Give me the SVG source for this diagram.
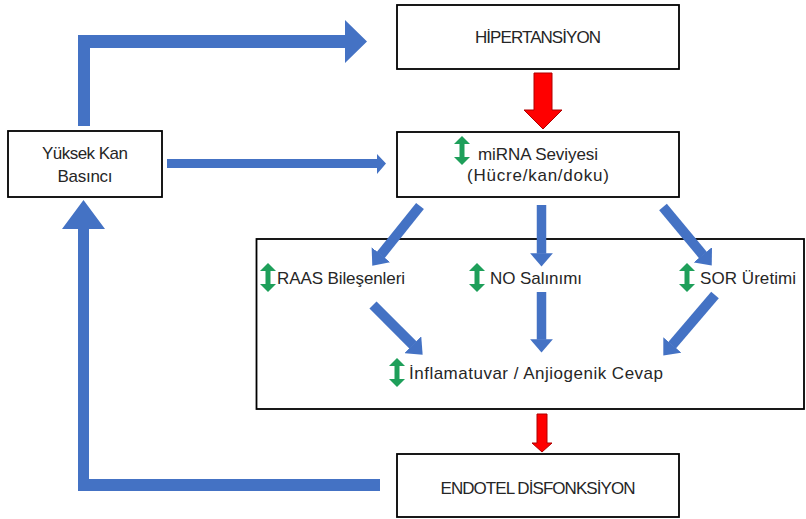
<svg xmlns="http://www.w3.org/2000/svg" width="806" height="519" viewBox="0 0 806 519">
<style>
.box{fill:#fff;stroke:#000;stroke-width:1.8}
.frame{fill:none;stroke:#000;stroke-width:1.8}
.t{font-family:"Liberation Sans",Arial,sans-serif;font-size:17px;fill:#262626}
.c{text-anchor:middle}
.blue{fill:#4472C4}
.bl{stroke:#4472C4;stroke-width:10;fill:none;marker-end:url(#bh)}
.bv{stroke:#4472C4;stroke-width:9.5;fill:none;marker-end:url(#bh)}
.red{fill:#FF0000;stroke:#B00000;stroke-width:1}
.g{fill:#1E9F5A}
</style>
<defs>
<marker id="bh" viewBox="0 -1.2 1.4 2.4" markerWidth="1.4" markerHeight="2.4" refX="0.05" refY="0" orient="auto" markerUnits="strokeWidth">
<path d="M0,-1.2 L1.4,0 L0,1.2 Z" fill="#4472C4"/>
</marker>
<path id="ga" d="M0,-14.5 L8,-6.5 L2.5,-6.5 L2.5,6.5 L8,6.5 L0,14.5 L-8,6.5 L-2.5,6.5 L-2.5,-6.5 L-8,-6.5Z"/>
</defs>

<g id="mekanizma">
<rect class="frame" x="256.5" y="239" width="547.5" height="170"/>
</g>

<g id="connectors">
<polygon class="blue" points="78,126 78,35 345,35 345,20 367,41.5 345,63 345,48 90,48 90,126"/>
<polygon class="blue" points="167,159 377,159 377,154 386,163.5 377,174 377,168 167,168"/>
<polygon class="blue" points="380,479 89,479 89,229 105,229 83.5,200 62,229 78,229 78,491 380,491"/>
<polygon class="red" points="534,73 552,73 552,110 562,110 543,129 524,110 534,110"/>
<polygon class="red" points="537,414 547,414 547,443 552,443 542,452 532,443 537,443"/>
<line class="bl" x1="420" y1="206" x2="380.7" y2="255.1"/>
<line class="bv" x1="541.5" y1="205" x2="541.5" y2="253.7"/>
<line class="bl" x1="663" y1="207" x2="703.1" y2="255.2"/>
<line class="bl" x1="373" y1="305" x2="413.1" y2="345.1"/>
<line class="bv" x1="541.5" y1="292" x2="541.5" y2="339.7"/>
<line class="bl" x1="715" y1="295" x2="672.1" y2="345.3"/>
</g>

<g id="hipertansiyon">
<rect class="box" x="397" y="5" width="282" height="64"/>
<text class="t c" x="538" y="43" textLength="126">HİPERTANSİYON</text>
</g>

<g id="mirna">
<rect class="box" x="397" y="132" width="282" height="65"/>
<use href="#ga" class="g" x="462" y="150.5"/>
<text class="t c" x="538" y="160" textLength="120">miRNA Seviyesi</text>
<text class="t c" x="538" y="181" textLength="142">(Hücre/kan/doku)</text>
</g>

<g id="yuksek">
<rect class="box" x="8" y="131" width="154" height="66"/>
<text class="t c" x="85" y="159" textLength="86">Yüksek Kan</text>
<text class="t c" x="85" y="182" textLength="55">Basıncı</text>
</g>

<g id="raas">
<use href="#ga" class="g" x="268" y="277.5"/>
<text class="t" x="277" y="284" textLength="128">RAAS Bileşenleri</text>
</g>

<g id="no">
<use href="#ga" class="g" x="477" y="277.5"/>
<text class="t" x="490" y="284" textLength="92">NO Salınımı</text>
</g>

<g id="sor">
<use href="#ga" class="g" x="687" y="277.5"/>
<text class="t" x="700" y="284" textLength="96">SOR Üretimi</text>
</g>

<g id="inflamatuvar">
<use href="#ga" class="g" x="397" y="372.5"/>
<text class="t" x="409" y="379" textLength="254">İnflamatuvar / Anjiogenik Cevap</text>
</g>

<g id="endotel">
<rect class="box" x="397" y="454" width="282" height="63"/>
<text class="t c" x="538" y="494" textLength="195">ENDOTEL DİSFONKSİYON</text>
</g>
</svg>
